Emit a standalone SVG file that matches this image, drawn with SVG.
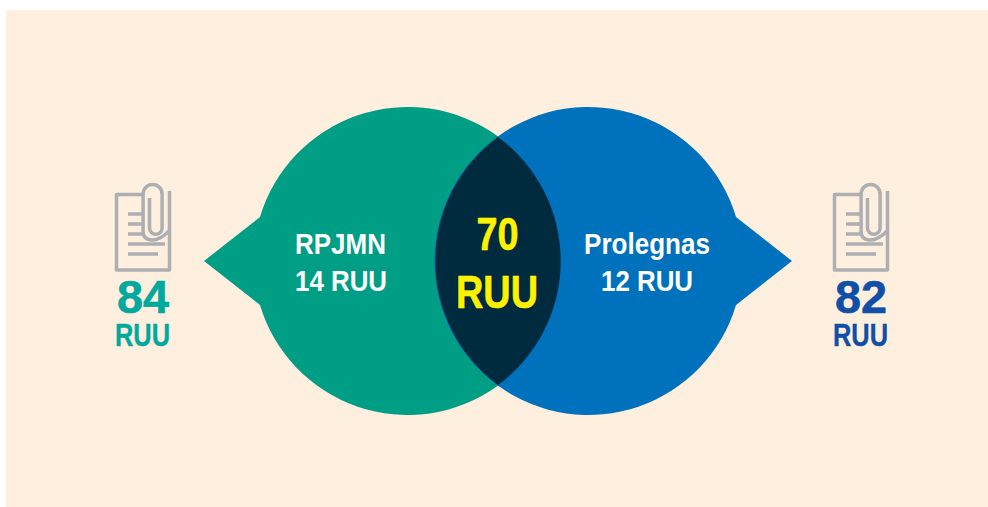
<svg xmlns="http://www.w3.org/2000/svg" width="988" height="507" viewBox="0 0 988 507">
<defs>
<style>
text{font-family:"Liberation Sans",Arial,sans-serif;font-weight:700;text-anchor:middle}
.w{fill:#fff;font-size:30px}
.y{fill:#fff200;stroke:#fff200;stroke-width:.6px;font-size:47px}
.n{font-size:46px;stroke-width:.6px}
.u{font-size:31px;stroke-width:.4px}
.g{fill:#00a99d;stroke:#00a99d}
.b{fill:#0f4fa8;stroke:#0f4fa8}
.ic{fill:none;stroke:#aeafb3;stroke-width:3.500}
</style>
<g id="doc">
<path class="ic" stroke-linejoin="round" d="M143 194.500H116.500V270H169.500V191"/>
<path class="ic" d="M149.500 198V228a6.300 6.300 0 0 0 12.600 0V194a9.500 9.500 0 0 0-19 0V232q0 7 8 8q8 1 18-9"/>
<path class="ic" d="M128 214H143M128 224H143M128 234H143M128 244H165M128 254H158"/>
</g>
</defs>
<rect id="background" x="6" y="10" width="982" height="497" fill="#ffefde"/>
<g id="connectors"/>
<g id="node-rpjmn">
<path fill="#009e85" d="M204 261L260 217A154 154 0 1 1 260 305Z"/>
<text class="w" x="340.500" y="253.500" textLength="91" lengthAdjust="spacingAndGlyphs">RPJMN</text>
<text class="w" x="341" y="291" textLength="92" lengthAdjust="spacingAndGlyphs">14 RUU</text>
</g>
<g id="node-prolegnas">
<path fill="#0071bc" d="M792 261L736 217A154 154 0 1 0 736 305Z"/>
<text class="w" x="647" y="253.500" textLength="126" lengthAdjust="spacingAndGlyphs">Prolegnas</text>
<text class="w" x="647" y="291" textLength="92" lengthAdjust="spacingAndGlyphs">12 RUU</text>
</g>
<g id="node-overlap">
<path fill="#002a3e" d="M498 137A154 154 0 0 1 498 385A154 154 0 0 1 498 137Z"/>
<text class="y" x="497.500" y="250" textLength="42" lengthAdjust="spacingAndGlyphs">70</text>
<text class="y" x="497" y="308" textLength="82" lengthAdjust="spacingAndGlyphs">RUU</text>
</g>
<g id="node-total-84">
<use href="#doc"/>
<text class="n g" x="143" y="313" textLength="52" lengthAdjust="spacingAndGlyphs">84</text>
<text class="u g" x="142.500" y="346" textLength="55" lengthAdjust="spacingAndGlyphs">RUU</text>
</g>
<g id="node-total-82">
<use href="#doc" x="718"/>
<text class="n b" x="861" y="313" textLength="52" lengthAdjust="spacingAndGlyphs">82</text>
<text class="u b" x="860.500" y="346" textLength="55" lengthAdjust="spacingAndGlyphs">RUU</text>
</g>
</svg>
